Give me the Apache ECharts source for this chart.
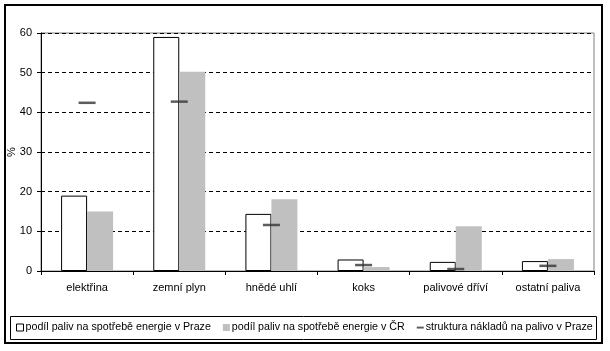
<!DOCTYPE html>
<html>
<head>
<meta charset="utf-8">
<script src="https://cdn.jsdelivr.net/npm/echarts@6/dist/echarts.min.js"></script>
<style>
html,body{margin:0;padding:0;background:#fff;}
#c{width:610px;height:351px;}
</style>
</head>
<body>
<div id="c"></div>
<script>
var categories = ['elektřina', 'zemní plyn', 'hnědé uhlí', 'koks', 'palivové dříví', 'ostatní paliva'];
var prahaShare = [19.0, 59.0, 14.4, 2.9, 2.3, 2.5];
var crShare = [15.0, 50.2, 18.1, 1.0, 11.3, 3.0];
var costStructure = [42.4, 42.7, 11.6, 1.5, 0.5, 1.3];
var seriesNames = ['podíl paliv na spotřebě energie v Praze', 'podíl paliv na spotřebě energie v ČR', 'struktura nákladů na palivo v Praze'];

var FONT = 'Liberation Sans, Arial, sans-serif';
var chart = echarts.init(document.getElementById('c'), null, {renderer: 'canvas'});
chart.setOption({
  animation: false,
  backgroundColor: '#fff',
  textStyle: {fontFamily: FONT},
  grid: {left: 41, right: 16, top: 33, bottom: 80, outerBoundsMode: 'none', containLabel: false,
         show: true, borderColor: '#808080', borderWidth: 1, backgroundColor: 'transparent'},
  graphic: [
    {type: 'rect', shape: {x: 5, y: 5, width: 597, height: 338}, style: {fill: 'none', stroke: '#000', lineWidth: 2}, z: 100},
    {type: 'rect', shape: {x: 10.5, y: 316.5, width: 586, height: 23}, style: {fill: 'none', stroke: '#000', lineWidth: 1}, z: 100}
  ],
  legend: {
    left: 16, top: 322, width: 595, itemGap: 12, itemWidth: 7, itemHeight: 7, padding: 0,
    textStyle: {fontFamily: FONT, fontSize: 10.7, color: '#000', padding: [0,0,0,-3]},
    data: [
      {name: seriesNames[0], icon: 'rect', itemStyle: {color: '#fff', borderColor: '#000', borderWidth: 1}},
      {name: seriesNames[1], icon: 'rect'},
      {name: seriesNames[2], icon: 'path://M0,0 M0,3h8v2.2h-8z M8,8'}
    ]
  },
  xAxis: {
    type: 'category', data: categories,
    axisLine: {lineStyle: {color: '#000', width: 1}},
    axisTick: {show: true, length: 4, lineStyle: {color: '#000'}},
    axisLabel: {color: '#000', fontSize: 11, fontFamily: FONT, margin: 11},
    splitLine: {show: false}
  },
  yAxis: {
    type: 'value', min: 0, max: 60, interval: 10,
    name: '%', nameLocation: 'middle', nameRotate: 90, nameGap: 24, nameMoveOverlap: false,
    nameTextStyle: {color: '#000', fontSize: 11, fontFamily: FONT},
    axisLine: {show: true, lineStyle: {color: '#000', width: 1}},
    axisTick: {show: true, length: 4, lineStyle: {color: '#000'}},
    axisLabel: {color: '#000', fontSize: 11, fontFamily: FONT, margin: 9},
    splitLine: {show: true, lineStyle: {color: '#000', type: [4, 3], width: 1}}
  },
  series: [
    {name: seriesNames[0], type: 'bar', data: prahaShare, barWidth: 26, barGap: '0%',
     itemStyle: {color: '#fff', borderColor: '#000', borderWidth: 1}},
    {name: seriesNames[1], type: 'bar', data: crShare, barWidth: 26, barGap: '0%',
     itemStyle: {color: '#C0C0C0', borderWidth: 0}},
    {name: seriesNames[2], type: 'scatter', data: costStructure, symbol: 'rect', symbolSize: [17, 2.5], z: 5,
     itemStyle: {color: '#333333'}}
  ]
});
</script>
</body>
</html>
